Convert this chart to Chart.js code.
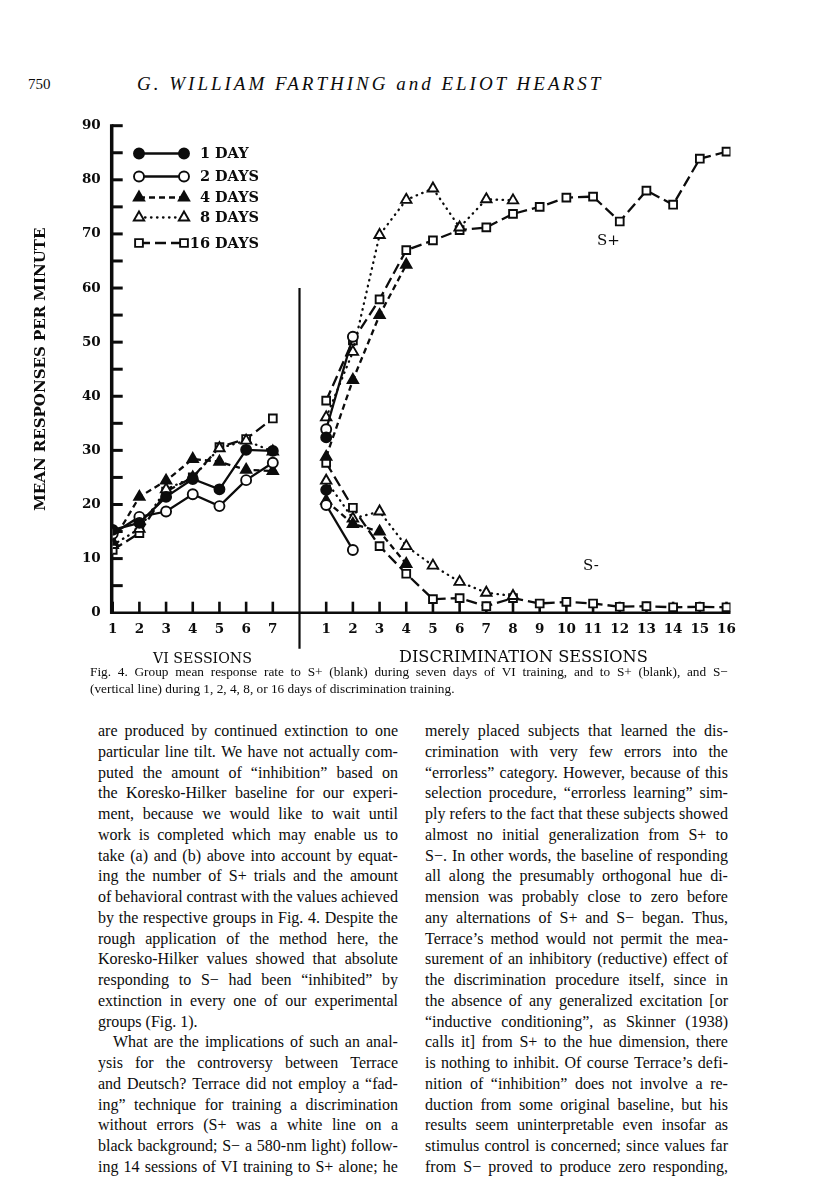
<!DOCTYPE html>
<html>
<head>
<meta charset="utf-8">
<script src="https://cdn.jsdelivr.net/npm/chart.js@4.4.0/dist/chart.umd.min.js"></script>
<style>
  body { margin: 0; background: #fff; }
  #page { position: relative; width: 816px; height: 1200px; overflow: hidden; color: #0c0c0c; font-family: "Liberation Serif", serif; }
  #chart { position: absolute; left: 0; top: 0; }
  .abs { position: absolute; white-space: nowrap; }
  .line { position: absolute; height: 20px; line-height: 20px; font-size: 16px; white-space: nowrap; }
  .just { display: flex; justify-content: space-between; }
  .cap { position: absolute; height: 16px; line-height: 16px; font-size: 13.3px; white-space: nowrap; }
  .chartText { font-family: "DejaVu Serif", serif; }
</style>
</head>
<body>
<div id="page">
  <div class="abs" style="left:28px;top:74px;font-size:15px;line-height:20px;">750</div>
  <div class="abs" style="left:137px;top:72px;font-size:19px;line-height:24px;font-style:italic;letter-spacing:3px;">G. WILLIAM FARTHING and ELIOT HEARST</div>

  <canvas id="chart" width="816" height="700"></canvas>

  <div class="abs chartText" style="left:597px;top:230px;font-size:15px;line-height:20px;">S+</div>
  <div class="abs chartText" style="left:583px;top:555px;font-size:15px;line-height:20px;">S-</div>
  <div class="abs chartText" style="left:153px;top:648px;font-size:14.2px;line-height:20px;">VI SESSIONS</div>
  <div class="abs chartText" style="left:399px;top:647px;font-size:16.2px;line-height:20px;">DISCRIMINATION SESSIONS</div>

  <div id="caption"></div>
  <div id="body"></div>
</div>

<script>
// sessions
const viSessions = [1, 2, 3, 4, 5, 6, 7];
const discSessions = [1, 2, 3, 4, 5, 6, 7, 8, 9, 10, 11, 12, 13, 14, 15, 16];
const groupLabels = ['1 DAY', '2 DAYS', '4 DAYS', '8 DAYS', '16 DAYS'];

// responses per minute, VI sessions (S+)
const vi1Day   = [15.3, 16.6, 21.4, 24.7, 22.8, 30.1, 29.9];
const vi2Days  = [14.6, 17.7, 18.7, 21.9, 19.7, 24.5, 27.7];
const vi4Days  = [13.1, 21.4, 24.4, 28.4, 27.9, 26.4, 26.2];
const vi8Days  = [12.5, 15.5, 22.8, 25.0, 30.4, 31.8, 29.8];
const vi16Days = [11.6, 14.7, 22.4, 25.0, 30.6, 32.1, 35.9];

// discrimination sessions, S+
const sPlus1Day   = [32.4];
const sPlus2Days  = [33.9, 51.0];
const sPlus4Days  = [28.8, 43.0, 55.0, 64.3];
const sPlus8Days  = [36.1, 48.2, 69.8, 76.3, 78.4, 71.2, 76.4, 76.2];
const sPlus16Days = [39.2, 50.3, 57.9, 67.0, 68.8, 70.7, 71.2, 73.7, 75.0, 76.7, 76.9, 72.3, 78.0, 75.4, 83.9, 85.2];

// discrimination sessions, S-
const sMinus1Day   = [22.7];
const sMinus2Days  = [19.9, 11.6];
const sMinus4Days  = [20.7, 16.4, 15.0, 9.0];
const sMinus8Days  = [24.4, 17.4, 18.7, 12.3, 8.7, 5.7, 3.7, 3.1];
const sMinus16Days = [27.7, 19.4, 12.3, 7.2, 2.5, 2.7, 1.2, 2.7, 1.7, 2.0, 1.7, 1.1, 1.2, 1.0, 1.1, 1.0];

const yMax = 90;
const yLabelStep = 10;

const viRates = [vi1Day, vi2Days, vi4Days, vi8Days, vi16Days];
const sPlusRates = [sPlus1Day, sPlus2Days, sPlus4Days, sPlus8Days, sPlus16Days];
const sMinusRates = [sMinus1Day, sMinus2Days, sMinus4Days, sMinus8Days, sMinus16Days];

// x position on one shared axis: VI sessions, a gap, then discrimination sessions
const GAP = viSessions.length + 1;
const viX = s => s;
const discX = d => d + GAP;

const styles = [
  { pointStyle: 'circle',   radius: 5,   filled: true,  dash: [],         cap: 'butt' },
  { pointStyle: 'circle',   radius: 5,   filled: false, dash: [],         cap: 'butt' },
  { pointStyle: 'triangle', radius: 6,   filled: true,  dash: [6, 4],     cap: 'butt' },
  { pointStyle: 'triangle', radius: 6,   filled: false, dash: [0.5, 5.5], cap: 'round' },
  { pointStyle: 'rect',     radius: 5.5, filled: false, dash: [11, 5],    cap: 'butt' }
];
const INK = '#0c0c0c';
const LABEL_FONT = { family: 'DejaVu Serif', size: 13.5, weight: 'bold' };

function makeSet(values, sessions, toX, st) {
  return {
    data: values.map((v, i) => ({ x: toX(sessions[i]), y: v })),
    borderColor: INK,
    borderWidth: 2.3,
    borderDash: st.dash,
    borderCapStyle: st.cap,
    pointStyle: st.pointStyle,
    pointRadius: st.radius,
    pointBorderWidth: 1.9,
    pointBorderColor: INK,
    pointBackgroundColor: st.filled ? INK : '#fff',
    tension: 0,
    fill: false
  };
}

const datasets = [];
styles.forEach((st, g) => {
  datasets.push(makeSet(viRates[g], viSessions, viX, st));
  datasets.push(makeSet(sPlusRates[g], discSessions, discX, st));
  datasets.push(makeSet(sMinusRates[g], discSessions, discX, st));
});

function drawMarker(ctx, st, x, y) {
  const r = st.radius;
  ctx.beginPath();
  if (st.pointStyle === 'circle') {
    ctx.arc(x, y, r, 0, Math.PI * 2);
  } else if (st.pointStyle === 'triangle') {
    const a = Math.PI * 2 / 3;
    ctx.moveTo(x, y - r);
    ctx.lineTo(x + Math.sin(a) * r, y - Math.cos(a) * r);
    ctx.lineTo(x + Math.sin(2 * a) * r, y - Math.cos(2 * a) * r);
    ctx.closePath();
  } else {
    const h = r * Math.SQRT1_2;
    ctx.rect(x - h, y - h, 2 * h, 2 * h);
  }
  ctx.fillStyle = st.filled ? INK : '#fff';
  ctx.fill();
  ctx.lineWidth = 1.9;
  ctx.strokeStyle = INK;
  ctx.setLineDash([]);
  ctx.stroke();
}

// axis lines with inward ticks, plus the divider between the two phases
const axesPlugin = {
  id: 'inwardAxes',
  beforeDatasetsDraw(chart) {
    const { ctx, scales: { x, y } } = chart;
    const x0 = x.getPixelForValue(1) - 1;
    const yb = y.getPixelForValue(0);
    ctx.save();
    ctx.strokeStyle = INK;
    ctx.lineWidth = 3.5;
    ctx.beginPath();
    ctx.moveTo(x0, yb + 1);
    ctx.lineTo(x0, y.getPixelForValue(yMax) - 1.5);
    ctx.stroke();
    ctx.lineWidth = 3;
    y.ticks.forEach(t => {
      if (t.value === 0) return;
      const py = y.getPixelForValue(t.value);
      ctx.beginPath();
      ctx.moveTo(x0, py);
      ctx.lineTo(x0 + 11, py);
      ctx.stroke();
    });
    ctx.lineWidth = 2.6;
    ctx.beginPath();
    ctx.moveTo(x0 - 1.5, yb);
    ctx.lineTo(x.right, yb);
    ctx.stroke();
    const tickXs = viSessions.map(viX).concat(discSessions.map(discX));
    tickXs.forEach(v => {
      const px = x.getPixelForValue(v);
      ctx.beginPath();
      ctx.moveTo(px, yb);
      ctx.lineTo(px, yb - 11);
      ctx.stroke();
    });
    ctx.lineWidth = 2.2;
    const dx = x.getPixelForValue(GAP);
    ctx.beginPath();
    ctx.moveTo(dx, y.getPixelForValue(60));
    ctx.lineTo(dx, yb + 36);
    ctx.stroke();
    ctx.restore();
  }
};

const legendPlugin = {
  id: 'groupLegend',
  afterDraw(chart) {
    const ctx = chart.ctx;
    const rowsY = [153.5, 176.5, 197.5, 217.5, 243];
    ctx.save();
    groupLabels.forEach((label, g) => {
      const st = styles[g];
      const yy = rowsY[g];
      const xa = 139, xb = 184;
      ctx.strokeStyle = INK;
      ctx.lineWidth = 2.3;
      ctx.lineCap = st.cap;
      ctx.setLineDash(st.dash);
      ctx.beginPath();
      ctx.moveTo(xa, yy);
      ctx.lineTo(xb, yy);
      ctx.stroke();
      ctx.lineCap = 'butt';
      drawMarker(ctx, st, xa, yy);
      drawMarker(ctx, st, xb, yy);
      ctx.font = 'bold 14.5px "DejaVu Serif"';
      ctx.fillStyle = INK;
      ctx.textBaseline = 'middle';
      ctx.textAlign = 'left';
      const num = label.split(' ')[0];
      ctx.fillText(label, 210 - ctx.measureText(num).width, yy + 1);
    });
    ctx.restore();
  }
};

new Chart(document.getElementById('chart'), {
  type: 'line',
  data: { datasets: datasets },
  options: {
    responsive: false,
    animation: false,
    events: [],
    layout: { padding: { left: 0, top: 125.7, right: 85.5, bottom: 0 } },
    plugins: { legend: { display: false }, tooltip: { enabled: false } },
    scales: {
      x: {
        type: 'linear',
        min: 1,
        max: discX(discSessions.length) + 0.15,
        afterFit: s => { s.height = 87.3; },
        grid: { display: false, drawTicks: false },
        border: { display: false },
        ticks: {
          stepSize: 1,
          includeBounds: false,
          autoSkip: false,
          maxRotation: 0,
          padding: 9,
          color: INK,
          font: LABEL_FONT,
          callback: v => v <= viSessions.length ? String(v) : (v > GAP ? String(v - GAP) : '')
        }
      },
      y: {
        min: 0,
        max: yMax,
        afterFit: s => { s.width = 112.7; },
        grid: { display: false, drawTicks: false },
        border: { display: false },
        ticks: {
          stepSize: yLabelStep / 2,
          padding: 12,
          color: INK,
          font: LABEL_FONT,
          callback: v => v % yLabelStep === 0 ? String(v) : ''
        },
        title: {
          display: true,
          text: 'MEAN RESPONSES PER MINUTE',
          color: INK,
          font: { family: 'DejaVu Serif', size: 15, weight: 'bold' },
          padding: { top: 32.4, bottom: 0 }
        }
      }
    }
  },
  plugins: [axesPlugin, legendPlugin]
});

// caption and body text
const captionLines = [
  'Fig. 4. Group mean response rate to S+ (blank) during seven days of VI training, and to S+ (blank), and S\u2212',
  '(vertical line) during 1, 2, 4, 8, or 16 days of discrimination training.'
];
const leftLines = [
  'are produced by continued extinction to one',
  'particular line tilt. We have not actually com-',
  'puted the amount of \u201cinhibition\u201d based on',
  'the Koresko-Hilker baseline for our experi-',
  'ment, because we would like to wait until',
  'work is completed which may enable us to',
  'take (a) and (b) above into account by equat-',
  'ing the number of S+ trials and the amount',
  'of behavioral contrast with the values achieved',
  'by the respective groups in Fig. 4. Despite the',
  'rough application of the method here, the',
  'Koresko-Hilker values showed that absolute',
  'responding to S\u2212 had been \u201cinhibited\u201d by',
  'extinction in every one of our experimental',
  'groups (Fig. 1).',
  'What are the implications of such an anal-',
  'ysis for the controversy between Terrace',
  'and Deutsch? Terrace did not employ a \u201cfad-',
  'ing\u201d technique for training a discrimination',
  'without errors (S+ was a white line on a',
  'black background; S\u2212 a 580-nm light) follow-',
  'ing 14 sessions of VI training to S+ alone; he'
];
const rightLines = [
  'merely placed subjects that learned the dis-',
  'crimination with very few errors into the',
  '\u201cerrorless\u201d category. However, because of this',
  'selection procedure, \u201cerrorless learning\u201d sim-',
  'ply refers to the fact that these subjects showed',
  'almost no initial generalization from S+ to',
  'S\u2212. In other words, the baseline of responding',
  'all along the presumably orthogonal hue di-',
  'mension was probably close to zero before',
  'any alternations of S+ and S\u2212 began. Thus,',
  'Terrace\u2019s method would not permit the mea-',
  'surement of an inhibitory (reductive) effect of',
  'the discrimination procedure itself, since in',
  'the absence of any generalized excitation [or',
  '\u201cinductive conditioning\u201d, as Skinner (1938)',
  'calls it] from S+ to the hue dimension, there',
  'is nothing to inhibit. Of course Terrace\u2019s defi-',
  'nition of \u201cinhibition\u201d does not involve a re-',
  'duction from some original baseline, but his',
  'results seem uninterpretable even insofar as',
  'stimulus control is concerned; since values far',
  'from S\u2212 proved to produce zero responding,'
];
const leftParaEnds = [14];
const leftIndents = [15];

function lineHtml(text, cls, left, top, width, justify) {
  const style = `left:${left}px;top:${top}px;width:${width}px;`;
  if (!justify) return `<div class="${cls}" style="${style}">${text}</div>`;
  const words = text.split(' ').map(w => `<span>${w}</span>`).join('');
  return `<div class="${cls} just" style="${style}">${words}</div>`;
}

let html = '';
captionLines.forEach((t, i) => {
  html += lineHtml(t, 'cap', 90, 664 + i * 16.5, 638, i === 0);
});
document.getElementById('caption').innerHTML = html;

html = '';
const pitch = 20.76;
leftLines.forEach((t, i) => {
  const ind = leftIndents.includes(i) ? 15 : 0;
  html += lineHtml(t, 'line', 98 + ind, 721 + i * pitch, 300 - ind, !leftParaEnds.includes(i));
});
rightLines.forEach((t, i) => {
  html += lineHtml(t, 'line', 425, 721 + i * pitch, 303, true);
});
document.getElementById('body').innerHTML = html;
</script>
</body>
</html>
